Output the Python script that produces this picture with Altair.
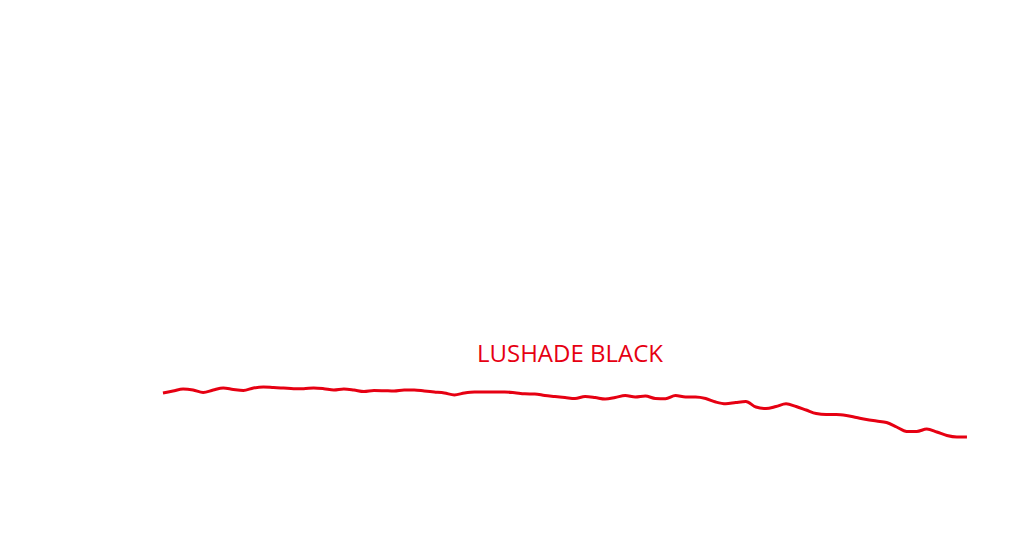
import altair as alt
import pandas as pd

# Series (index = time step, value = level)
steps = list(range(81))
levels_px = [393, 391, 389, 390, 392.5, 390, 388, 389.5, 390.5, 388,
             387, 387.5, 388, 388.7, 388.7, 388, 388.7, 390, 389, 390,
             391.5, 390.5, 390.7, 391, 390, 390, 391, 392, 393, 395,
             393, 392, 392, 392, 392, 392.7, 393.8, 394, 395.5, 396.5,
             397.5, 398.5, 396.5, 397.5, 399, 397.5, 395.5, 397, 396, 398.5,
             398.7, 395.5, 397, 397, 398.5, 402, 403.8, 402.5, 401.5, 407,
             408.5, 406.5, 403.8, 406.5, 410, 413.5, 414.5, 414.5, 415.5, 417.5,
             419.5, 421, 422.5, 427, 431.5, 431.5, 429, 432, 435.5, 437, 437]
values = [538 - p for p in levels_px]
series_name = "LUSHADE BLACK"
RED = "#e60012"

df = pd.DataFrame({"step": steps, "value": values})

W, H = 1008, 530

line = alt.Chart(df).mark_line(color=RED, strokeWidth=3, interpolate="monotone").encode(
    x=alt.X("step:Q", scale=alt.Scale(domain=[-15.42, 84.88], nice=False, zero=False), axis=None),
    y=alt.Y("value:Q", scale=alt.Scale(domain=[0, 530], nice=False, zero=False), axis=None),
)

label = alt.Chart(pd.DataFrame({"name": [series_name]})).mark_text(
    color=RED, font="Open Sans", fontSize=24, align="center", baseline="middle"
).encode(
    text="name:N",
    x=alt.value(562),
    y=alt.value(347),
)

chart = alt.layer(line, label).properties(
    width=W, height=H, padding=0, autosize=alt.AutoSizeParams(type="none")
).configure_view(stroke=None)

chart.save("out.html", embed_options={"renderer": "svg", "actions": False})
